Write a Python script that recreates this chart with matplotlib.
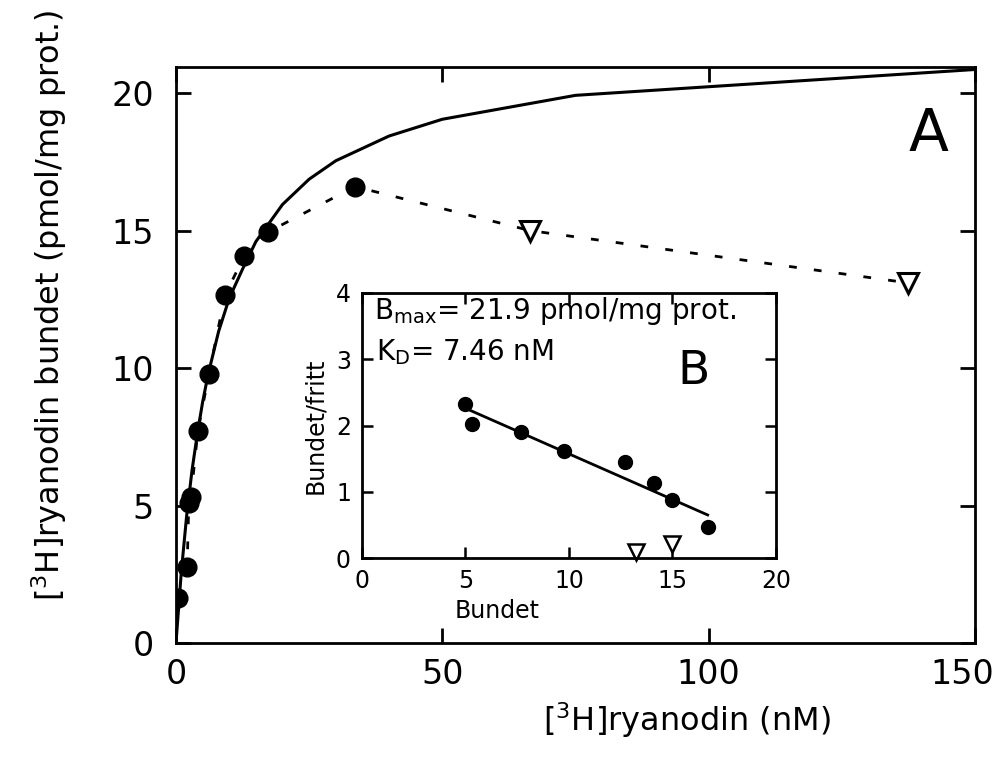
import matplotlib
matplotlib.use('Agg')
import matplotlib.pyplot as plt
import matplotlib.transforms as mtransforms

plt.rcParams['font.family'] = ['DejaVu Sans']
plt.rcParams['mathtext.fontset'] = 'dejavusans'

# ---- Panel A: binding curve ----
# filled circles (free [3H]ryanodin nM, bound pmol/mg)
free_pts = [0.4, 2.1, 2.4, 2.8, 4.1, 6.2, 9.2, 12.8, 17.3, 33.6]
bound_pts = [1.64, 2.76, 5.1, 5.3, 7.7, 9.8, 12.65, 14.07, 14.95, 16.6]
# open triangles
free_tri = [66.5, 137.4]
bound_tri = [15.0, 13.1]

# fitted saturation curve
fit_x = [0, 1, 2, 3, 4, 5, 6, 8, 10, 12.5, 15, 20, 25, 30, 40, 50, 75, 150]
fit_y = [0, 2.58, 4.62, 6.26, 7.6, 8.76, 9.74, 11.33, 12.54, 13.6, 14.6,
         15.95, 16.87, 17.54, 18.44, 19.05, 19.92, 20.86]

# ---- Panel B: Scatchard inset ----
sc_bound = [5.0, 5.3, 7.67, 9.74, 12.7, 14.1, 15.0, 16.7]
sc_ratio = [2.33, 2.02, 1.90, 1.62, 1.445, 1.13, 0.87, 0.47]
sc_bound_tri = [13.25, 15.0]
sc_ratio_tri = [0.095, 0.21]
sc_line_x = [5.0, 16.7]
sc_line_y = [2.26, 0.65]

fig = plt.figure(figsize=(10.01, 7.66), dpi=100)
ax = fig.add_axes([0.1758, 0.1606, 0.7982, 0.7519])

ax.plot(fit_x, fit_y, color='black', lw=2.2, zorder=2)
ax.plot(free_pts + free_tri, bound_pts + bound_tri, color='black', lw=2.0,
        linestyle=(0, (2.8, 6.2)), zorder=2)
ax.plot(free_pts, bound_pts, 'o', color='black', ms=13.5, zorder=3)
ax.plot(free_tri, bound_tri, 'v', mfc='white', mec='black', mew=2.2, ms=14, zorder=3)

ax.set_xlim(0, 150)
ax.set_ylim(0, 20.95)
ax.set_xticks([0, 50, 100, 150])
ax.set_yticks([0, 5, 10, 15, 20])
ax.tick_params(direction='in', length=11, width=2, labelsize=24, top=True, right=True)
ax.tick_params(axis='x', pad=11)
ax.tick_params(axis='y', pad=16)
for s in ax.spines.values():
    s.set_linewidth(2)

# last x tick label sits a bit left so it stays on the page
last = ax.get_xticklabels()[-1]
last.set_transform(last.get_transform() +
                   mtransforms.ScaledTranslation(-0.13, 0, fig.dpi_scale_trans))

ax.set_xlabel('[$^3$H]ryanodin (nM)', fontsize=23)
ax.xaxis.set_label_coords(0.64, -0.1)
ax.set_ylabel('[$^3$H]ryanodin bundet (pmol/mg prot.)', fontsize=23)
ax.yaxis.set_label_coords(-0.134, 0.587)
ax.text(141.2, 18.5, 'A', fontsize=42, ha='center', va='center')

# inset
axi = fig.add_axes([0.3616, 0.2715, 0.4136, 0.346])
axi.set_facecolor('white')
axi.plot(sc_line_x, sc_line_y, color='black', lw=2.0)
axi.plot(sc_bound, sc_ratio, 'o', color='black', ms=10)
axi.plot(sc_bound_tri, sc_ratio_tri, 'v', mfc='white', mec='black', mew=1.8, ms=11,
         clip_on=False)
axi.set_xlim(0, 20)
axi.set_ylim(0, 4)
axi.set_xticks([0, 5, 10, 15, 20])
axi.set_yticks([0, 1, 2, 3, 4])
axi.tick_params(direction='in', length=8, width=1.8, labelsize=17, top=True, right=True,
                pad=8)
for s in axi.spines.values():
    s.set_linewidth(2)
axi.set_xlabel('Bundet', fontsize=17)
axi.xaxis.set_label_coords(0.326, -0.155)
axi.set_ylabel('Bundet/fritt', fontsize=17, labelpad=6)
axi.text(0.03, 0.9, r'B$_{\mathrm{max}}$= 21.9 pmol/mg prot.', transform=axi.transAxes,
         fontsize=20, va='baseline')
axi.text(0.035, 0.747, r'K$_{\mathrm{D}}$= 7.46 nM', transform=axi.transAxes,
         fontsize=20, va='baseline')
axi.text(16.0, 2.81, 'B', fontsize=34, ha='center', va='center')

fig.savefig('out.png', dpi=100)
